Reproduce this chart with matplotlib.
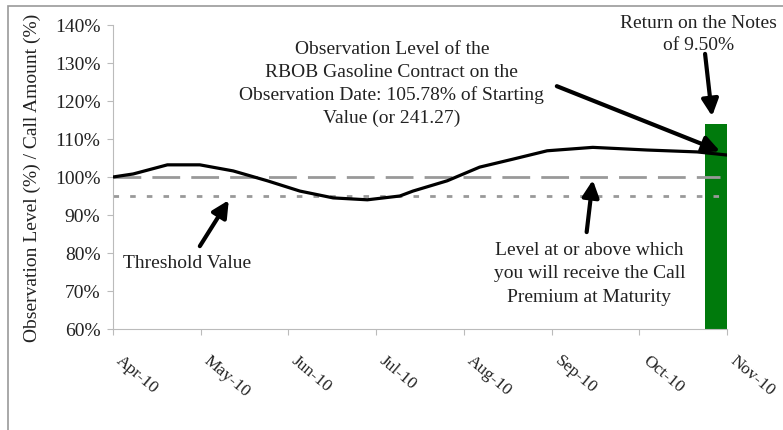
import matplotlib
matplotlib.use('Agg')
import matplotlib.pyplot as plt
from matplotlib.patches import Rectangle

# Data (x in months from Apr-10)
month_labels = ['Apr-10', 'May-10', 'Jun-10', 'Jul-10', 'Aug-10', 'Sep-10', 'Oct-10', 'Nov-10']
obs_x = [0, 0.23, 0.62, 0.99, 1.37, 1.76, 2.13, 2.51, 2.90, 3.27, 3.42, 3.81,
         4.18, 4.56, 4.95, 5.47, 6.09, 6.66, 7.0]
obs_level = [100, 100.8, 103.2, 103.2, 101.6, 99.0, 96.3, 94.5, 94.0, 95.0, 96.3, 99.0,
             102.6, 104.7, 106.9, 107.8, 107.1, 106.6, 105.78]
call_level = 100
threshold = 95
bar_x = 6.885
bar_value = 113.9

plt.rcParams['font.family'] = 'Liberation Serif'
txt = '#222222'

fig = plt.figure(figsize=(7.83, 4.31), dpi=100)
ax = fig.add_axes([113 / 783, 101 / 431, 614 / 783, 304 / 431])

ax.bar(bar_x, bar_value, width=0.27, color='#007a0c', zorder=1)
ax.plot([0, 6.92], [call_level, call_level], color='#999999', lw=2,
        dashes=(10, 4), zorder=2)
ax.plot([0, 6.92], [threshold, threshold], color='#999999', lw=2,
        dashes=(2, 4), zorder=2)
ax.plot(obs_x, obs_level, color='black', lw=2.3, zorder=3,
        solid_joinstyle='round', solid_capstyle='round')

ax.set_xlim(0, 7)
ax.set_ylim(60, 140)
ax.set_yticks(range(60, 141, 10))
ax.set_yticklabels([f'{v}%' for v in range(60, 141, 10)], fontsize=14, color=txt)
ax.set_xticks(range(len(month_labels)))
ax.set_xticklabels(month_labels, fontsize=12.5, color=txt, rotation=-40,
                   ha='left', va='bottom', rotation_mode='anchor')
ax.tick_params(axis='x', pad=21, length=4, color='#bbbbbb')
ax.tick_params(axis='y', pad=5, length=4, color='#bbbbbb')
for s in ['top', 'right']:
    ax.spines[s].set_visible(False)
for s in ['left', 'bottom']:
    ax.spines[s].set_color('#bbbbbb')
ax.set_ylabel('Observation Level (%) / Call Amount (%)', fontsize=14, color=txt,
              labelpad=10)

arrow = dict(arrowstyle='-|>', lw=3, color='black', mutation_scale=25,
             shrinkA=0, shrinkB=0)
tkw = dict(fontsize=14, color=txt, ha='center', va='top', linespacing=1.42)

ax.annotate('', xy=(6.92, 106.8), xytext=(5.06, 123.9), arrowprops=arrow)
ax.text(3.18, 136.0, 'Observation Level of the\nRBOB Gasoline Contract on the\n'
        'Observation Date: 105.78% of Starting\nValue (or 241.27)', **tkw)

ax.annotate('', xy=(6.83, 116.0), xytext=(6.75, 132.4), arrowprops=arrow,
            annotation_clip=False)
ax.text(6.68, 143.0, 'Return on the Notes\nof 9.50%', clip_on=False, **tkw)

ax.annotate('', xy=(1.32, 93.9), xytext=(0.99, 81.8), arrowprops=arrow)
ax.text(0.11, 77.6, 'Threshold Value', fontsize=14, color=txt, ha='left', va='center')

ax.annotate('', xy=(5.47, 99.2), xytext=(5.40, 85.5), arrowprops=arrow)
ax.text(5.43, 83.2, 'Level at or above which\nyou will receive the Call\n'
        'Premium at Maturity', **dict(tkw, linespacing=1.5))

# outer frame of the original graphic
fig.patches.append(Rectangle((8 / 783, -0.1), 1.2, (431 - 7) / 431 + 0.1,
                             transform=fig.transFigure, fill=False,
                             edgecolor='#999999', lw=1.2))

fig.savefig('out.png', dpi=100)
